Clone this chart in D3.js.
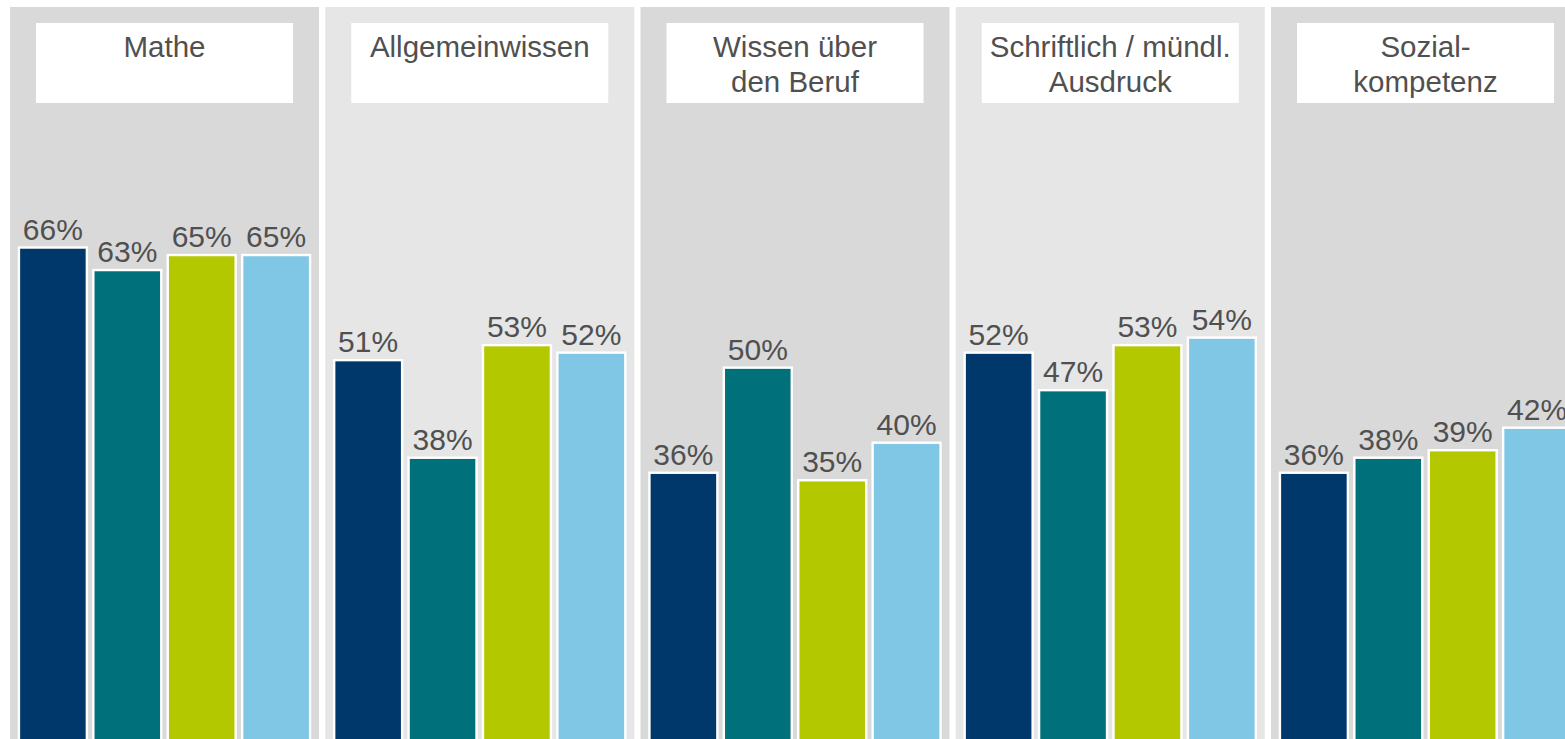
<!DOCTYPE html>
<html>
<head>
<meta charset="utf-8">
<script src="https://cdn.jsdelivr.net/npm/d3@7"></script>
<style>
  body { margin: 0; background: #fff; }
  svg { display: block; font-family: "Liberation Sans", Arial, Helvetica, sans-serif; }
</style>
</head>
<body>
<svg id="chart"></svg>
<script>
// categories (panel titles, split into lines)
const categories = ["Mathe", "Allgemeinwissen", "Wissen über den Beruf", "Schriftlich / mündl. Ausdruck", "Sozialkompetenz"];
const titleLines = [
  ["Mathe"],
  ["Allgemeinwissen"],
  ["Wissen über", "den Beruf"],
  ["Schriftlich / mündl.", "Ausdruck"],
  ["Sozial-", "kompetenz"],
];
// four series per panel (no legend in the picture)
const seriesKeys = ["Gruppe 1", "Gruppe 2", "Gruppe 3", "Gruppe 4"];
const seriesColors = ["#00386b", "#00707a", "#b4c800", "#7fc7e5"];
const values = [
  [66, 63, 65, 65],
  [51, 38, 53, 52],
  [36, 50, 35, 40],
  [52, 47, 53, 54],
  [36, 38, 39, 42],
];
const panelFills = ["#d9d9d9", "#e6e6e6"];

const width = 1565;
const height = 739;
const panelTop = 7;
const textColor = "#505050";

const svg = d3.select("#chart").attr("width", width).attr("height", height);

// panels run past the right edge, the last one is cut off
const xPanel = d3
  .scaleBand()
  .domain(categories)
  .range([10, 10 + 5 * 315.25 - 6.25])
  .paddingInner(6.25 / 315.25)
  .paddingOuter(0);

const xBar = d3
  .scaleBand()
  .domain(seriesKeys)
  .range([0, xPanel.bandwidth()])
  .paddingInner(0.087)
  .paddingOuter(0.12);

const y = d3.scaleLinear().domain([0, 100]).range([743, -7.7]);

const data = categories.map((c, i) => ({
  category: c,
  lines: titleLines[i],
  fill: panelFills[i % 2],
  bars: seriesKeys.map((k, j) => ({ key: k, value: values[i][j], color: seriesColors[j] })),
}));

const panels = svg
  .selectAll("g.panel")
  .data(data)
  .join("g")
  .attr("class", "panel")
  .attr("transform", (d) => `translate(${xPanel(d.category)},0)`);

panels
  .append("rect")
  .attr("x", 0)
  .attr("y", panelTop)
  .attr("width", xPanel.bandwidth())
  .attr("height", height - panelTop)
  .attr("fill", (d) => d.fill);

// title box
const boxW = 257;
const boxH = 80;
panels
  .append("rect")
  .attr("x", (xPanel.bandwidth() - boxW) / 2)
  .attr("y", 23)
  .attr("width", boxW)
  .attr("height", boxH)
  .attr("fill", "#fff");

panels
  .append("text")
  .attr("text-anchor", "middle")
  .attr("fill", textColor)
  .attr("font-size", "29.5px")
  .selectAll("tspan")
  .data((d) => d.lines)
  .join("tspan")
  .attr("x", xPanel.bandwidth() / 2)
  .attr("y", (d, i) => 57 + i * 34.5)
  .text((d) => d);

// bars
panels
  .selectAll("rect.bar")
  .data((d) => d.bars)
  .join("rect")
  .attr("class", "bar")
  .attr("x", (d) => xBar(d.key))
  .attr("y", (d) => y(d.value))
  .attr("width", xBar.bandwidth())
  .attr("height", (d) => y(0) - y(d.value) + 10)
  .attr("fill", (d) => d.color)
  .attr("stroke", "#fff")
  .attr("stroke-width", 2.4);

panels
  .selectAll("text.value")
  .data((d) => d.bars)
  .join("text")
  .attr("class", "value")
  .attr("x", (d) => xBar(d.key) + xBar.bandwidth() / 2)
  .attr("y", (d) => y(d.value) - 8)
  .attr("text-anchor", "middle")
  .attr("fill", textColor)
  .attr("font-size", "30px")
  .text((d) => `${d.value}%`);
</script>
</body>
</html>
